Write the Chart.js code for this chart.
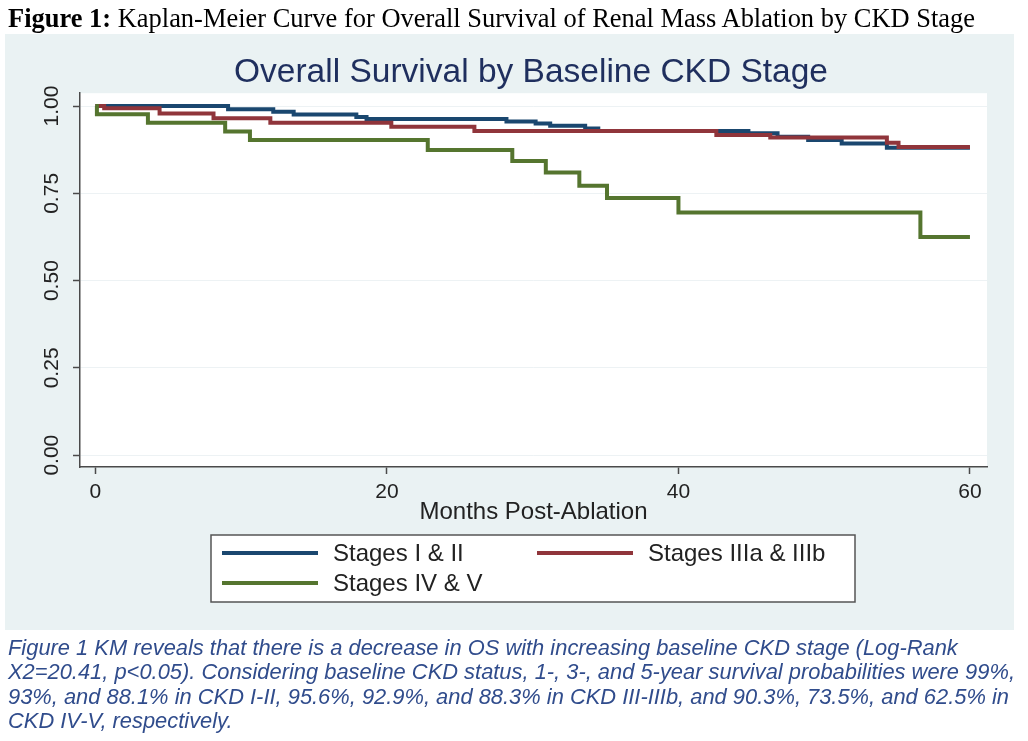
<!DOCTYPE html>
<html>
<head>
<meta charset="utf-8">
<script src="https://cdn.jsdelivr.net/npm/chart.js@4.4.1/dist/chart.umd.min.js"></script>
<style>
  body { margin: 0; background: #fff; width: 1028px; height: 741px; overflow: hidden; position: relative; }
  #panel { position: absolute; left: 5px; top: 34px; width: 1009px; height: 596px; background: #eaf2f3; }
  #wrap { position: absolute; left: 0; top: 0; width: 1028px; height: 741px; }
  .fit { position: absolute; left: 8px; white-space: nowrap; transform-origin: 0 50%; }
  #head { top: 3px; line-height: 30px; font-family: "Liberation Serif", "Times New Roman", serif; font-size: 27px; color: #000; }
  .cap { font-family: "Liberation Sans", Arial, sans-serif; font-style: italic; font-size: 22px; line-height: 24px; color: #304c8c; }
</style>
</head>
<body>
<div id="panel"></div>
<div id="wrap"><canvas id="km" width="1028" height="741"></canvas></div>
<div id="head" class="fit"><b>Figure 1:</b> Kaplan-Meier Curve for Overall Survival of Renal Mass Ablation by CKD Stage</div>
<div class="fit cap" style="top:636px">Figure 1 KM reveals that there is a decrease in OS with increasing baseline CKD stage (Log-Rank</div>
<div class="fit cap ref" style="top:660px">X2=20.41, p&lt;0.05). Considering baseline CKD status, 1-, 3-, and 5-year survival probabilities were 99%,</div>
<div class="fit cap" style="top:685px">93%, and 88.1% in CKD I-II, 95.6%, 92.9%, and 88.3% in CKD III-IIIb, and 90.3%, 73.5%, and 62.5% in</div>
<div class="fit cap" style="top:709px">CKD IV-V, respectively.</div>
<script>
// Kaplan-Meier steps: month of each drop and survival after it
const stage12Months = [0, 9.1, 12.2, 13.6, 17.9, 18.6, 28.2, 30.2, 31.2, 33.6, 34.5, 44.8, 46.8, 48.9, 51.2, 54.3, 60];
const stage12Surv   = [1.0, 0.991, 0.984, 0.976, 0.969, 0.963, 0.956, 0.950, 0.944, 0.936, 0.929, 0.922, 0.912, 0.903, 0.893, 0.881, 0.881];

const stage3Months = [0, 0.6, 4.4, 8.1, 12.0, 20.3, 26.0, 42.6, 46.3, 54.3, 55.1, 60];
const stage3Surv   = [1.0, 0.994, 0.979, 0.965, 0.952, 0.941, 0.929, 0.917, 0.910, 0.895, 0.883, 0.883];

const stage45Months = [0, 0.1, 3.6, 8.9, 10.6, 22.8, 28.6, 30.9, 33.2, 35.1, 40.0, 56.6, 60];
const stage45Surv   = [1.0, 0.977, 0.952, 0.927, 0.903, 0.874, 0.843, 0.810, 0.772, 0.737, 0.695, 0.625, 0.625];

const seriesLabels = ['Stages I & II', 'Stages IIIa & IIIb', 'Stages IV & V'];
const seriesColors = ['#1a476f', '#90353b', '#55752f'];

const xTicks = [0, 20, 40, 60];
const yTicks = [0, 0.25, 0.5, 0.75, 1];

const toPoints = (months, surv) => months.map((m, i) => ({ x: m, y: surv[i] }));

const AXIS = '#4a4a4a';
const TEXT = '#222';

const plotBackground = {
    id: 'plotBackground',
    beforeDraw(chart) {
        const { ctx, chartArea: a } = chart;
        ctx.save();
        ctx.fillStyle = '#ffffff';
        ctx.fillRect(a.left, a.top, a.right - a.left, a.bottom - a.top);
        ctx.restore();
    }
};

// y tick labels are drawn rotated, like the Stata original
const rotatedYLabels = {
    id: 'rotatedYLabels',
    afterDraw(chart) {
        const { ctx } = chart;
        const y = chart.scales.y;
        ctx.save();
        ctx.fillStyle = TEXT;
        ctx.font = '21px "Liberation Sans", Arial, sans-serif';
        ctx.textAlign = 'center';
        ctx.textBaseline = 'middle';
        y.ticks.forEach(t => {
            ctx.save();
            ctx.translate(52, y.getPixelForValue(t.value));
            ctx.rotate(-Math.PI / 2);
            ctx.fillText(t.value.toFixed(2), 0, 0);
            ctx.restore();
        });
        ctx.restore();
    }
};

// boxed legend below the axis title
const boxLegend = {
    id: 'boxLegend',
    afterDraw(chart) {
        const { ctx } = chart;
        const box = { x: 211, y: 535, w: 644, h: 67 };
        ctx.save();
        ctx.fillStyle = '#ffffff';
        ctx.fillRect(box.x, box.y, box.w, box.h);
        ctx.strokeStyle = '#555';
        ctx.lineWidth = 1.5;
        ctx.strokeRect(box.x, box.y, box.w, box.h);
        ctx.font = '24px "Liberation Sans", Arial, sans-serif';
        ctx.textBaseline = 'middle';
        ctx.fillStyle = TEXT;
        chart.data.datasets.forEach((ds, i) => {
            const col = i % 2, row = Math.floor(i / 2);
            const x0 = box.x + 11 + col * 315;
            const yy = box.y + 18 + row * 30;
            ctx.strokeStyle = ds.borderColor;
            ctx.lineWidth = 4;
            ctx.beginPath();
            ctx.moveTo(x0, yy);
            ctx.lineTo(x0 + 96, yy);
            ctx.stroke();
            ctx.fillText(ds.label, x0 + 111, yy + 1);
        });
        ctx.restore();
    }
};

const datasets = [
    toPoints(stage12Months, stage12Surv),
    toPoints(stage3Months, stage3Surv),
    toPoints(stage45Months, stage45Surv)
].map((pts, i) => ({
    label: seriesLabels[i],
    data: pts,
    borderColor: seriesColors[i],
    borderWidth: 4,
    stepped: 'before',
    pointRadius: 0,
    fill: false,
    order: 2 - i
}));

new Chart(document.getElementById('km'), {
    type: 'line',
    data: { datasets },
    options: {
        responsive: false,
        animation: false,
        layout: { padding: { left: 75, top: 53, right: 41, bottom: 214 } },
        plugins: {
            legend: { display: false },
            tooltip: { enabled: false },
            title: {
                display: true,
                text: 'Overall Survival by Baseline CKD Stage',
                color: '#1f2f5e',
                font: { family: '"Liberation Sans", Arial, sans-serif', size: 33.5, weight: 'normal' },
                padding: { top: 0, bottom: 0 }
            }
        },
        scales: {
            x: {
                type: 'linear',
                min: -1.06,
                max: 61.17,
                afterBuildTicks: s => { s.ticks = xTicks.map(v => ({ value: v })); },
                afterFit: s => { s.height = 60; },
                ticks: { color: TEXT, font: { size: 21, family: '"Liberation Sans", Arial, sans-serif' }, padding: 6, maxRotation: 0 },
                grid: { drawOnChartArea: false, drawTicks: true, tickLength: 7, tickColor: AXIS, tickWidth: 1.5 },
                border: { display: true, color: AXIS, width: 1.5 },
                title: {
                    display: true,
                    text: 'Months Post-Ablation',
                    color: TEXT,
                    font: { size: 24, family: '"Liberation Sans", Arial, sans-serif' },
                    padding: { top: 0, bottom: 0 }
                }
            },
            y: {
                type: 'linear',
                min: -0.034,
                max: 1.037,
                afterBuildTicks: s => { s.ticks = yTicks.map(v => ({ value: v })); },
                afterFit: s => { s.width = 5; },
                ticks: { display: false },
                grid: { color: '#edf2f4', lineWidth: 1, drawTicks: true, tickLength: 7, tickColor: AXIS, tickWidth: 1.5 },
                border: { display: true, color: AXIS, width: 1.5 }
            }
        }
    },
    plugins: [plotBackground, rotatedYLabels, boxLegend]
});

// squeeze the header and caption lines to the width they have in the figure
function fitWidth(el, target) {
    const w = el.getBoundingClientRect().width;
    el.style.transform = 'scaleX(' + (target / w) + ')';
}
fitWidth(document.getElementById('head'), 967);
const ref = document.querySelector('.cap.ref');
const capScale = 1007 / ref.getBoundingClientRect().width;
document.querySelectorAll('.cap').forEach(el => { el.style.transform = 'scaleX(' + capScale + ')'; });
</script>
</body>
</html>
